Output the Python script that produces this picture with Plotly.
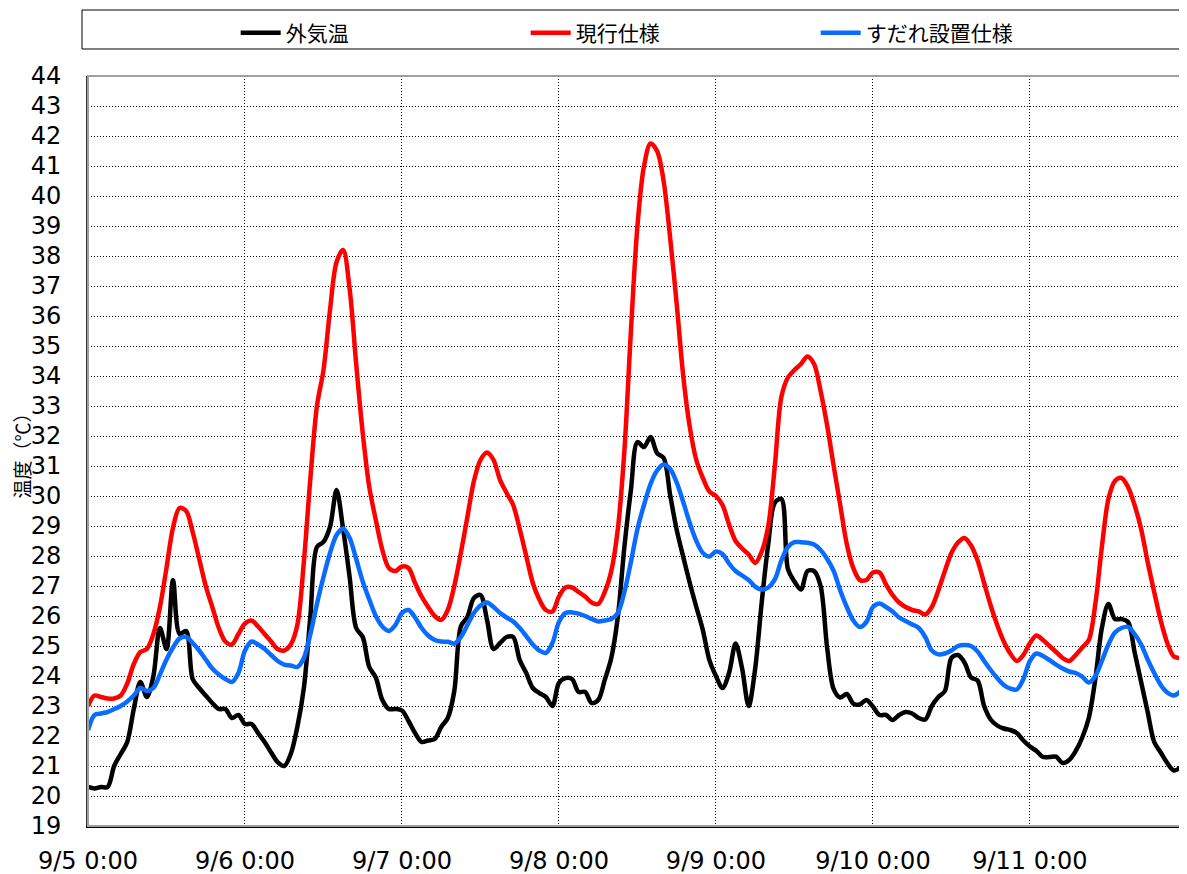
import pandas as pd
import plotly.graph_objects as go

# ---- data (hourly, 9/5 0:00 ... 9/11 23:00) ----
start = "2023-09-05 00:00"
hours = pd.date_range(start, periods=168, freq="h")

outdoor = [
    20.3, 20.25, 20.3, 20.3, 21.0, 21.4, 21.8, 22.9, 23.8, 23.3, 24.0, 25.6, 24.9, 27.2, 25.4, 25.5,
    23.9, 23.6, 23.35, 23.1, 22.9, 22.9, 22.6, 22.7,
    22.4, 22.4, 22.1, 21.8, 21.45, 21.13, 21.0, 21.4, 22.3, 23.6, 26.0, 28.3, 28.47, 28.97, 30.2, 28.9,
    27.3, 25.6, 25.3, 24.3, 23.95, 23.2, 22.9, 22.9,
    22.85, 22.5, 22.1, 21.8, 21.85, 21.9, 22.3, 22.6, 23.5, 25.65, 25.97, 26.6, 26.7, 25.87, 24.9, 25.1,
    25.3, 25.3, 24.53, 24.1, 23.6, 23.43, 23.3, 23.0,
    23.77, 23.93, 23.9, 23.47, 23.47, 23.1, 23.2, 23.87, 24.6, 25.97, 28.3, 30.2, 31.8, 31.63, 31.97, 31.43,
    31.27, 30.03, 28.87, 27.97, 27.1, 26.3, 25.53, 24.53,
    24.0, 23.6, 24.1, 25.08, 24.25, 23.0, 24.25, 26.46, 28.4, 29.78, 29.9, 27.57, 27.15, 26.88, 27.5, 27.5,
    27.0, 24.94, 23.56, 23.28, 23.4, 23.08, 23.05, 23.2,
    22.98, 22.7, 22.7, 22.53, 22.7, 22.8, 22.75, 22.6, 22.55, 23.0, 23.3, 23.5, 24.6, 24.7, 24.45, 23.95,
    23.85, 23.0, 22.55, 22.35, 22.25, 22.2, 22.1, 21.85,
    21.65, 21.5, 21.3, 21.3, 21.31, 21.1, 21.2, 21.5, 21.95, 22.6, 23.9, 25.6, 26.4, 25.9, 25.9, 25.8,
    24.8, 23.8, 22.8, 21.8, 21.45, 21.1, 20.85, 20.95,
]

current = [
    23.0, 23.35, 23.3, 23.25, 23.25, 23.35, 23.75, 24.4, 24.8, 24.9, 25.4, 26.3, 27.6, 28.95, 29.6, 29.5,
    28.8, 27.9, 27.0, 26.3, 25.6, 25.15, 25.05, 25.4,
    25.75, 25.85, 25.65, 25.4, 25.15, 24.9, 24.85, 25.05, 25.7, 27.8, 30.6, 33.0, 34.2, 36.2, 37.8, 38.2,
    36.9, 34.4, 32.1, 30.3, 29.2, 28.2, 27.6, 27.5,
    27.65, 27.6, 27.1, 26.65, 26.3, 26.0, 25.87, 26.2, 27.0, 28.1, 29.3, 30.5, 31.2, 31.45, 31.2, 30.53,
    30.1, 29.7, 28.9, 28.0, 27.1, 26.55, 26.2, 26.15,
    26.65, 26.95, 26.95, 26.8, 26.65, 26.45, 26.4, 26.8, 27.5, 28.9, 31.5, 35.5, 39.0, 41.0, 41.75, 41.5,
    40.5, 38.6, 36.4, 34.0, 32.3, 31.2, 30.6, 30.15,
    30.0, 29.7, 29.05, 28.5, 28.25, 28.05, 27.77, 28.15, 29.0, 31.0, 33.3, 33.95, 34.2, 34.4, 34.65, 34.4,
    33.5, 32.35, 31.0, 29.7, 28.4, 27.6, 27.2, 27.2,
    27.45, 27.45, 27.05, 26.7, 26.45, 26.3, 26.2, 26.15, 26.05, 26.3, 26.85, 27.5, 28.1, 28.45, 28.6, 28.35,
    27.85, 27.1, 26.35, 25.7, 25.15, 24.75, 24.5, 24.7,
    25.1, 25.35, 25.2, 25.0, 24.8, 24.6, 24.5, 24.7, 24.95, 25.2, 26.4, 28.3, 29.9, 30.5, 30.6, 30.3,
    29.7, 28.9, 27.8, 26.8, 25.85, 25.1, 24.65, 24.6,
]

sudare = [
    22.2, 22.7, 22.75, 22.8, 22.9, 23.0, 23.15, 23.35, 23.6, 23.5, 23.6, 24.05, 24.55, 24.95, 25.25, 25.3,
    25.1, 24.85, 24.55, 24.25, 24.05, 23.9, 23.8, 24.1,
    24.85, 25.15, 25.05, 24.9, 24.7, 24.5, 24.38, 24.35, 24.3, 24.6, 25.4, 26.4, 27.3, 28.1, 28.7, 28.92,
    28.6, 27.9, 27.15, 26.55, 26.0, 25.65, 25.5, 25.7,
    26.1, 26.2, 25.95, 25.6, 25.35, 25.2, 25.15, 25.14, 25.08, 25.3, 25.7, 26.1, 26.35, 26.45, 26.3, 26.1,
    25.95, 25.82, 25.6, 25.33, 25.05, 24.85, 24.77, 25.1,
    25.8, 26.1, 26.12, 26.08, 26.0, 25.9, 25.82, 25.85, 25.9, 26.1, 26.8, 27.8, 28.9, 29.7, 30.4, 30.85,
    31.05, 30.9, 30.45, 29.8, 29.1, 28.5, 28.1, 27.98,
    28.15, 28.07, 27.75, 27.5, 27.35, 27.2, 26.98, 26.88, 26.95, 27.22, 27.85, 28.3, 28.46, 28.46, 28.44, 28.38,
    28.2, 27.9, 27.5, 26.85, 26.3, 25.85, 25.63, 25.8,
    26.3, 26.42, 26.3, 26.15, 25.95, 25.83, 25.72, 25.6, 25.3, 24.85, 24.72, 24.75, 24.85, 25.0, 25.03, 25.0,
    24.82, 24.5, 24.2, 23.93, 23.7, 23.58, 23.55, 23.9,
    24.5, 24.75, 24.67, 24.53, 24.38, 24.25, 24.15, 24.1, 23.98, 23.78, 24.0, 24.5, 25.05, 25.45, 25.6, 25.64,
    25.4, 25.05, 24.55, 24.1, 23.7, 23.45, 23.35, 23.48,
]

series_names = ["外気温", "現行仕様", "すだれ設置仕様"]
series_colors = ["#000000", "#FF0000", "#0A6CFF"]
y_title = "温度（℃）"

# page body adds an 8px offset; size the figure so the picture lines up with the window
W, H = 1179, 866
ML, MR, MT, MB = 80, 5, 68, 48
PW, PH = W - ML - MR, H - MT - MB

fig = go.Figure()
for name, vals, col in zip(series_names, [outdoor, current, sudare], series_colors):
    fig.add_trace(go.Scatter(
        x=hours, y=vals, name=name, mode="lines",
        line=dict(color=col, width=4.5, shape="spline", smoothing=0.9),
    ))

x_end = pd.Timestamp(start) + pd.Timedelta(hours=167.25)

fig.update_layout(
    width=W, height=H,
    margin=dict(l=ML, r=MR, t=MT, b=MB, autoexpand=False),
    paper_bgcolor="white", plot_bgcolor="white",
    font=dict(family="DejaVu Sans", color="#000000"),
    showlegend=True,
    legend=dict(
        orientation="h", x=0.135, xanchor="left", y=1 + 43 / PH, yanchor="middle",
        entrywidth=235, entrywidthmode="pixels",
        font=dict(family="Noto Sans CJK JP", size=21, color="#000000"),
        bgcolor="rgba(0,0,0,0)", borderwidth=0, itemwidth=40,
    ),
    shapes=[
        dict(type="rect", xref="paper", yref="paper",
             x0=-6 / PW, x1=1095 / PW,
             y0=(PH + 27) / PH, y1=(PH + 66) / PH,
             line=dict(color="#000000", width=1), fillcolor="rgba(0,0,0,0)"),
        dict(type="rect", xref="paper", yref="paper", x0=0, x1=1, y0=0, y1=1,
             line=dict(color="#A0A0A0", width=2), fillcolor="rgba(0,0,0,0)", layer="above"),
    ],
)

fig.update_xaxes(
    type="date", range=[pd.Timestamp(start), x_end],
    tick0=start, dtick=86400000, tickformat="%-m/%-d %-H:%M",
    showgrid=True, gridcolor="#000000", griddash="1px,2px", gridwidth=1,
    showline=True, linecolor="#000000", linewidth=2,
    ticks="", ticklabelstandoff=12, automargin=False,
    tickfont=dict(family="DejaVu Sans", size=24, color="#000000"),
    zeroline=False,
)
fig.update_yaxes(
    range=[19, 44], tick0=19, dtick=1,
    showgrid=True, gridcolor="#000000", griddash="1px,2px", gridwidth=1,
    showline=True, linecolor="#333333", linewidth=2,
    ticks="", ticklabelstandoff=20, automargin=False,
    tickfont=dict(family="DejaVu Sans", size=24, color="#000000"),
    title=dict(text=y_title, font=dict(family="Noto Sans CJK JP", size=19, color="#000000"), standoff=2),
    zeroline=False,
)

fig.write_html("out.html")
